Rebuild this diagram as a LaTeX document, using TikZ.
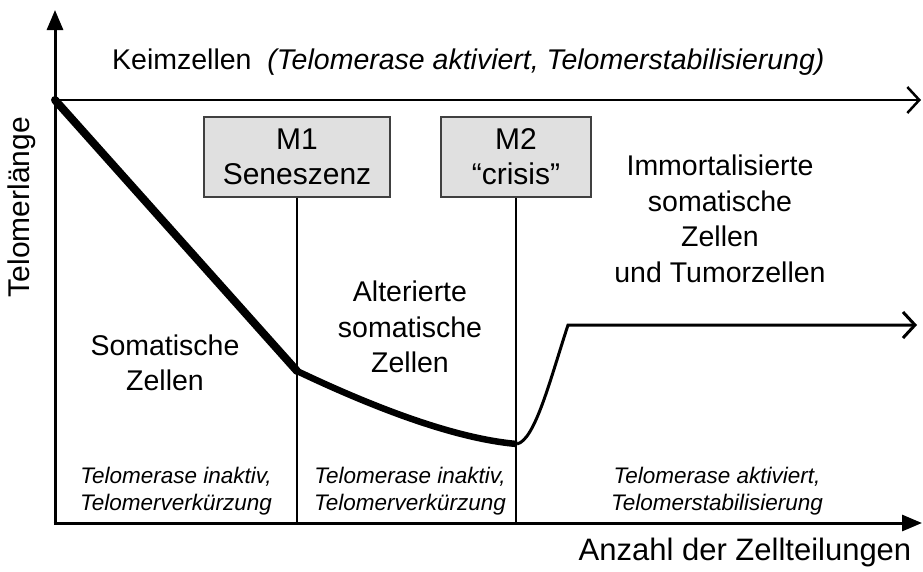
\documentclass[tikz,border=0pt]{standalone}
\usepackage{fontspec}
\setmainfont{Liberation Sans}
\usetikzlibrary{arrows.meta}
\definecolor{boxgray}{HTML}{E0E0E0}
\definecolor{boxedge}{HTML}{404040}
\tikzset{
  axis/.style={line width=3pt, -{Triangle[length=20pt,width=16pt]}},
  openarrow/.style={-{Straight Barb[length=12pt,width=26pt]}},
  mbox/.style={draw=boxedge, line width=1.2pt, fill=boxgray, minimum height=80pt, align=center, font=\fontsize{30}{35}\selectfont, inner sep=0pt},
  lbl/.style={align=center, font=\fontsize{28.5}{35.5}\selectfont, inner sep=0pt},
  ilbl/.style={align=center, font=\fontsize{22.5}{27}\selectfont\itshape, inner sep=0pt},
  divider/.style={line width=2pt}
}
\begin{document}
\begin{tikzpicture}[x=1pt,y=-1pt]
\useasboundingbox (0,0) rectangle (923,571);
% coordinates
\coordinate (orig) at (55,523);
\coordinate (ytop) at (55,10);
\coordinate (xend) at (922,523);
\coordinate (k0) at (55,100);
\coordinate (kend) at (921,100);
\coordinate (p1) at (297,371);
\coordinate (p2) at (517,444);
\coordinate (p3) at (568,325);
\coordinate (pend) at (917,325);
% boxes
\node[mbox, minimum width=186pt] (m1) at (297,157) {M1\\Seneszenz};
\node[mbox, minimum width=150pt] (m2) at (516,157) {M2\\“crisis”};
\coordinate (m1b) at (297,523);
\coordinate (m2b) at (516,523);
% dividers
\draw[divider] (m1.south) -- (m1b);
\draw[divider] (m2.south) -- (m2b);
% axes
\draw[axis] (orig) -- (ytop);
\draw[axis] ([xshift=-1.5pt]orig) -- (xend);
% Keimzellen line
\draw[line width=2.5pt, openarrow] (k0) -- (kend);
% telomere curve
\draw[line width=8pt, line cap=round] (k0) -- (p1);
\draw[line width=6.5pt] (p1) .. controls (400,420) and (470,440) .. (p2);
\draw[line width=3pt, line join=miter, openarrow] (p2) .. controls (535,440) and (550,380) .. (p3) -- (pend);
% labels
\node[lbl, anchor=west] (keim) at (112,62) {Keimzellen\ \ \textit{(Telomerase aktiviert, Telomerstabilisierung)}};
\node[lbl, rotate=90, font=\fontsize{30}{36}\selectfont] (ylab) at (22,207) {Telomerlänge};
\node[lbl] (imm) at (720,219) {Immortalisierte\\somatische\\Zellen\\und Tumorzellen};
\node[lbl] (som) at (165,363) {Somatische\\Zellen};
\node[lbl] (alt) at (410,327) {Alterierte\\somatische\\Zellen};
\node[ilbl] (i1) at (176,491) {Telomerase inaktiv,\\Telomerverkürzung};
\node[ilbl] (i2) at (410,491) {Telomerase inaktiv,\\Telomerverkürzung};
\node[ilbl] (i3) at (717,491) {Telomerase aktiviert,\\Telomerstabilisierung};
\node[lbl, font=\fontsize{31}{36}\selectfont] (xlab) at (745,552) {Anzahl der Zellteilungen};
\end{tikzpicture}
\end{document}
